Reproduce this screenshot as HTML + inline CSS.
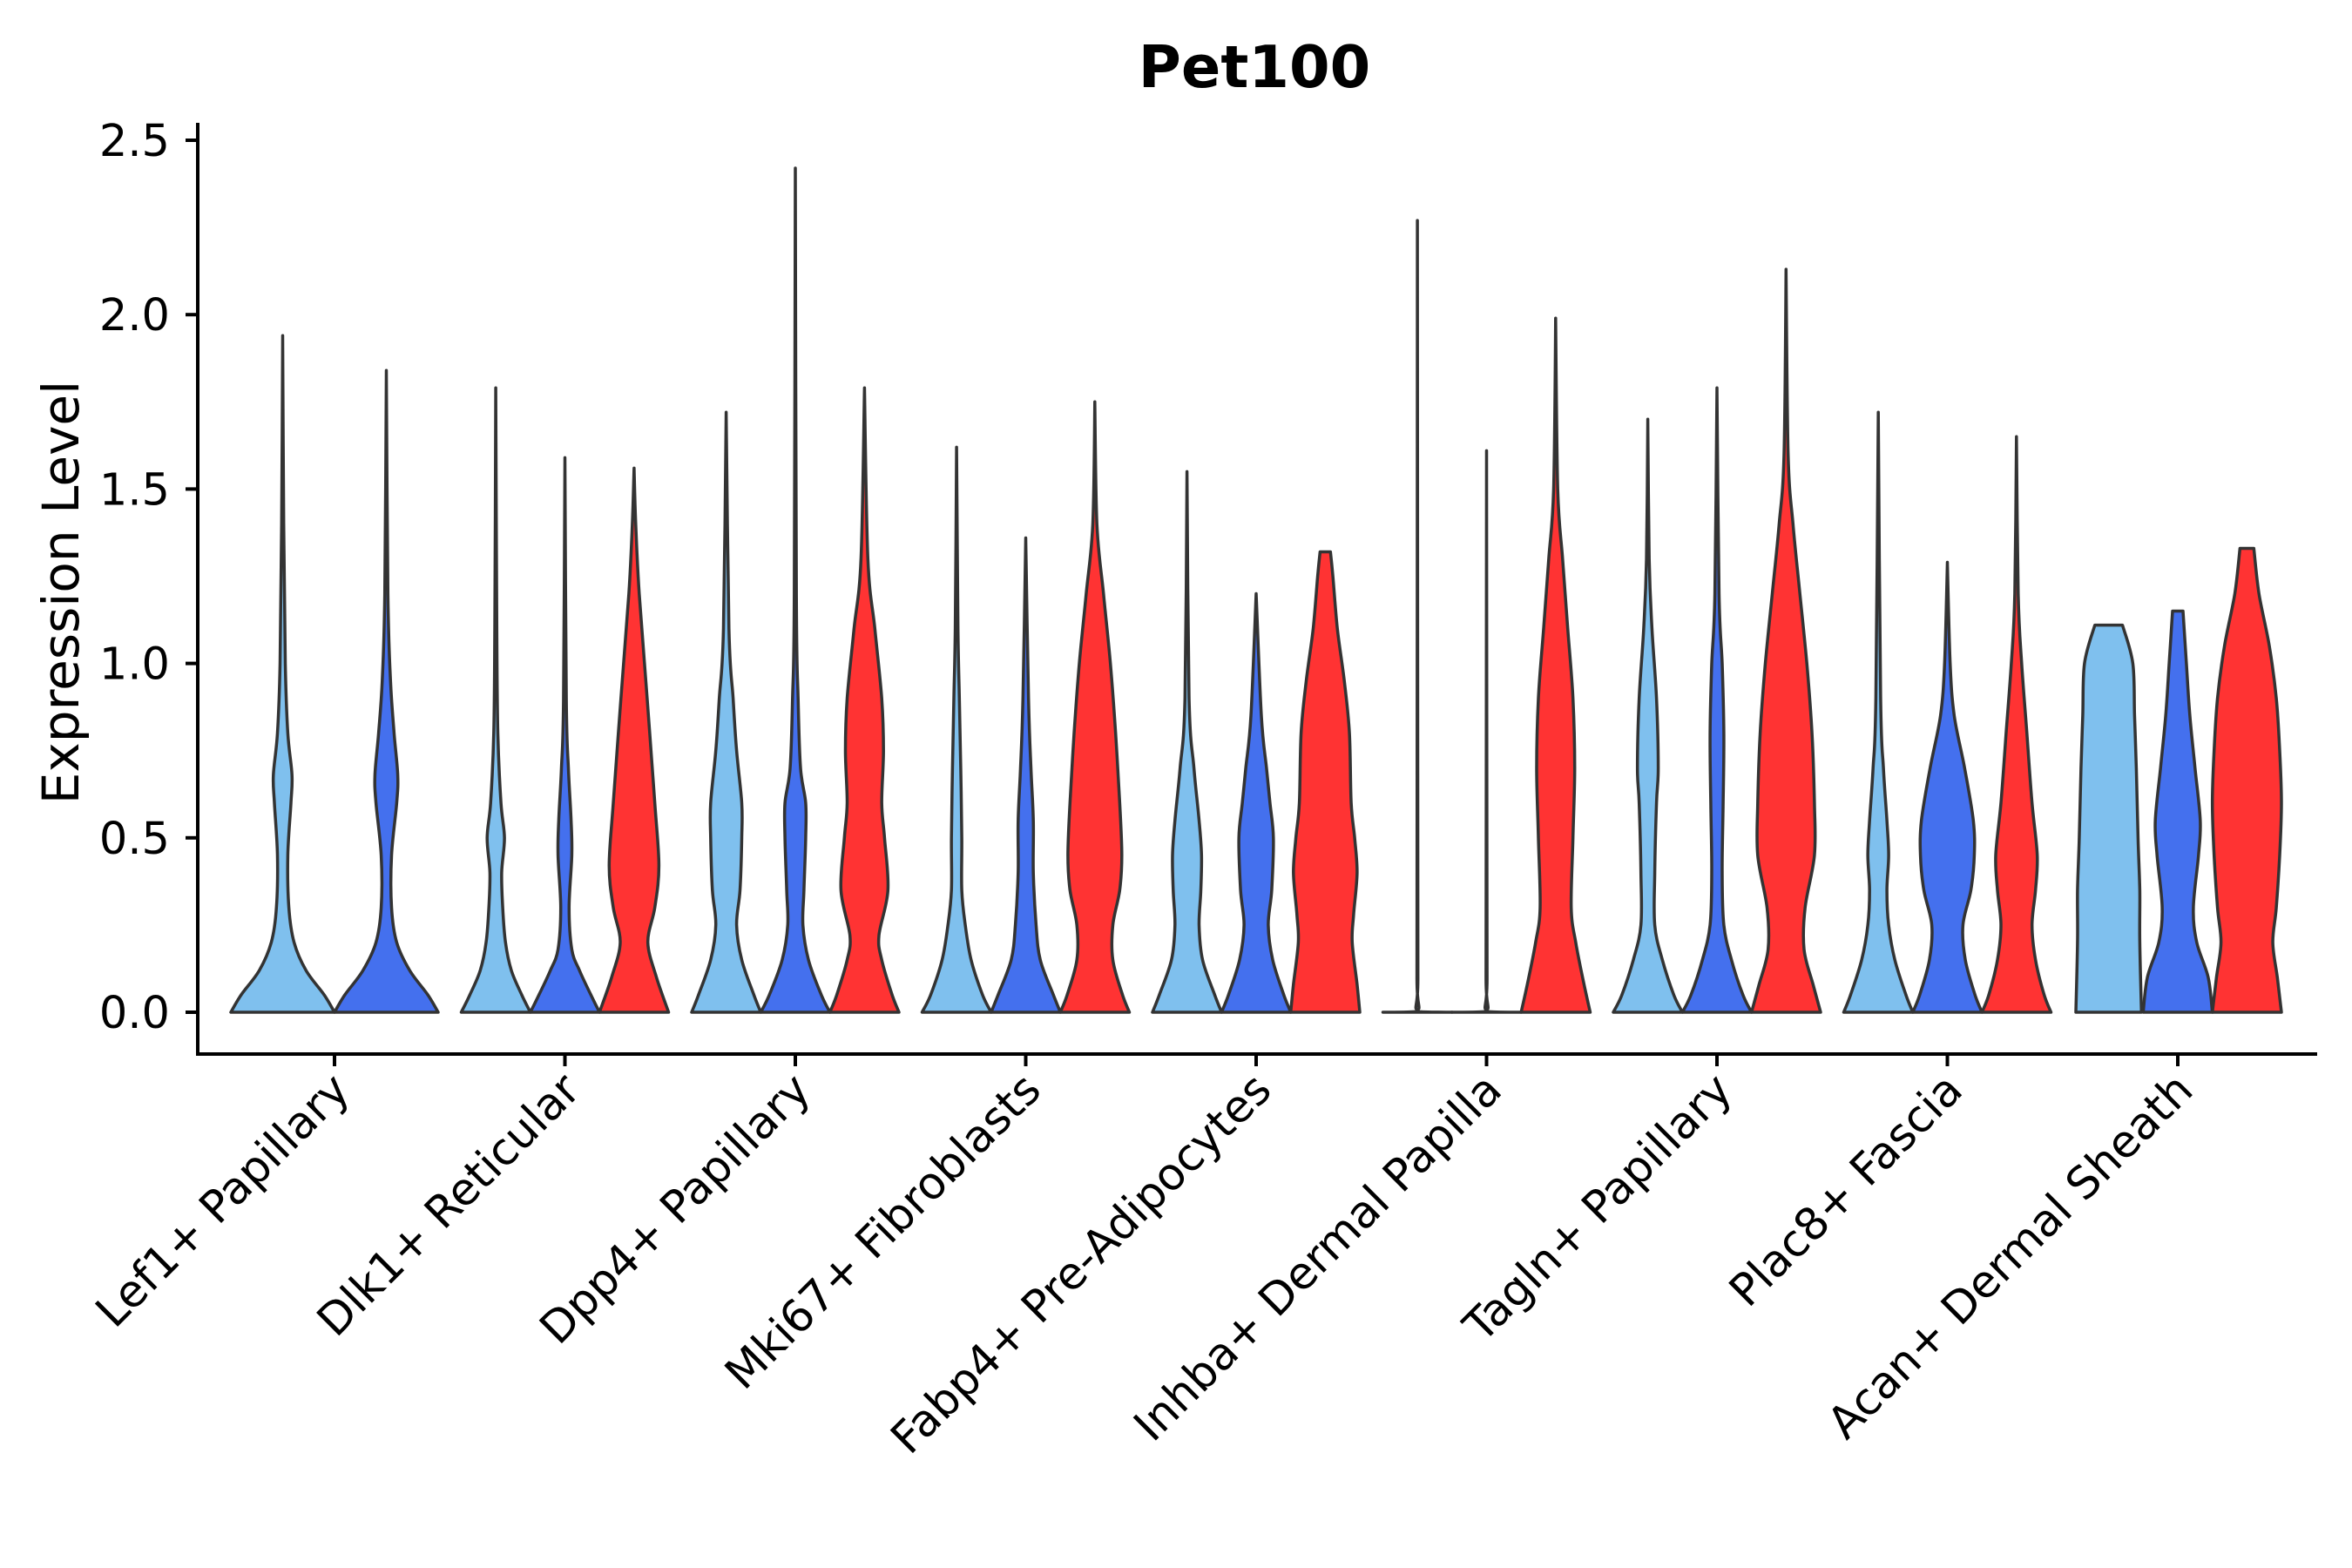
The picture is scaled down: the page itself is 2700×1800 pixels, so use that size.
<!DOCTYPE html>
<html><head><meta charset="utf-8"><style>
html,body{margin:0;padding:0;background:#fff;}
svg{display:block;font-family:"DejaVu Sans","Liberation Sans",sans-serif;}
</style></head><body>
<svg id="chart" width="2700" height="1800" viewBox="0 0 2700 1800" xmlns="http://www.w3.org/2000/svg">
<rect width="2700" height="1800" fill="#fff"/>
<text x="1440" y="100" text-anchor="middle" font-size="67" font-weight="bold">Pet100</text>
<text transform="translate(90,680) rotate(-90)" text-anchor="middle" font-size="58">Expression Level</text>
<g id="violins"></g>
<g id="axes"></g>
</svg>
<script>
const categories = ["Lef1+ Papillary","Dlk1+ Reticular","Dpp4+ Papillary","Mki67+ Fibroblasts","Fabp4+ Pre-Adipocytes","Inhba+ Dermal Papilla","Tagln+ Papillary","Plac8+ Fascia","Acan+ Dermal Sheath"];
const yTicks = [0, 0.5, 1.0, 1.5, 2.0, 2.5];
const yTickLabels = ["0.0","0.5","1.0","1.5","2.0","2.5"];
const seriesColors = ["#7FC0EE","#4470EE","#FF3333"];
// each violin: category index, series index, density knots [value, relative width]
const violinCats = [0,0, 1,1,1, 2,2,2, 3,3,3, 4,4,4, 5,5,5, 6,6,6, 7,7,7, 8,8,8];
const violinSeries = [0,1, 0,1,2, 0,1,2, 0,1,2, 0,1,2, 0,1,2, 0,1,2, 0,1,2, 0,1,2];
const violinKnots = [
 [0,1,.05,.8,.12,.45,.2,.22,.3,.12,.45,.1,.6,.16,.68,.18,.8,.1,1.0,.05,1.4,.02,1.94,0],
 [0,1,.05,.8,.12,.45,.2,.2,.3,.1,.45,.1,.6,.2,.68,.22,.8,.15,.95,.08,1.2,.03,1.84,0],
 [0,1,.05,.75,.12,.45,.2,.28,.3,.2,.4,.17,.5,.25,.6,.15,.8,.06,1.1,.03,1.79,0],
 [0,1,.05,.75,.12,.42,.18,.2,.3,.12,.45,.2,.55,.18,.7,.1,.9,.04,1.59,0],
 [0,1,.1,.65,.2,.4,.3,.6,.42,.72,.6,.6,.9,.38,1.2,.15,1.4,.05,1.56,0],
 [0,1,.05,.8,.15,.45,.25,.3,.35,.4,.5,.45,.6,.45,.75,.3,.9,.2,1.1,.08,1.72,0],
 [0,1,.05,.75,.15,.38,.25,.22,.35,.25,.5,.3,.6,.3,.7,.15,.9,.08,1.2,.03,2.42,0],
 [0,1,.05,.8,.15,.5,.22,.42,.35,.68,.5,.58,.6,.5,.75,.55,.9,.5,1.1,.3,1.3,.1,1.79,0],
 [0,1,.05,.75,.15,.42,.25,.25,.35,.15,.5,.15,.7,.12,.9,.08,1.1,.04,1.62,0],
 [0,1,.05,.8,.15,.42,.25,.3,.4,.22,.55,.22,.7,.15,.9,.08,1.36,0],
 [0,1,.05,.8,.15,.52,.25,.52,.35,.72,.45,.78,.6,.72,.8,.6,1.0,.45,1.2,.25,1.4,.06,1.75,0],
 [0,1,.05,.8,.15,.45,.25,.35,.35,.4,.45,.42,.55,.35,.7,.2,.9,.06,1.55,0],
 [0,1,.05,.8,.15,.48,.25,.35,.35,.45,.5,.5,.6,.4,.7,.3,.85,.15,1.2,0],
 [0,1,.08,.92,.2,.78,.28,.82,.4,.92,.5,.85,.6,.75,.8,.7,.95,.55,1.1,.35,1.25,.22,1.32,.15],
 [0,1,.002,.03,.1,.015,2.27,0],
 [0,1,.002,.03,.1,.015,1.61,0],
 [0,1,.08,.82,.2,.58,.3,.45,.5,.5,.7,.55,.9,.5,1.1,.35,1.3,.2,1.5,.06,1.99,0],
 [0,1,.05,.75,.15,.42,.25,.2,.4,.2,.6,.25,.7,.3,.9,.25,1.1,.12,1.3,.04,1.7,0],
 [0,1,.05,.75,.15,.42,.25,.2,.4,.15,.6,.18,.8,.2,1.0,.15,1.2,.06,1.79,0],
 [0,1,.08,.78,.18,.52,.3,.55,.45,.82,.6,.82,.8,.75,1.0,.6,1.2,.4,1.4,.2,1.6,.06,2.13,0],
 [0,1,.05,.8,.15,.48,.25,.3,.35,.25,.45,.3,.55,.25,.7,.15,.9,.07,1.72,0],
 [0,1,.05,.8,.15,.52,.25,.45,.35,.68,.45,.78,.55,.75,.7,.5,.85,.2,1.0,.08,1.29,0],
 [0,1,.05,.8,.15,.55,.25,.45,.35,.55,.45,.6,.6,.45,.8,.3,1.0,.15,1.2,.05,1.65,0],
 [0,.95,.2,.9,.35,.9,.5,.85,.7,.8,.85,.75,1.0,.7,1.11,.4],
 [0,1,.1,.88,.2,.55,.3,.45,.45,.6,.55,.65,.7,.5,.85,.35,1.0,.25,1.15,.15],
 [0,1,.1,.88,.2,.75,.3,.85,.45,.95,.6,1.0,.75,.95,.9,.85,1.05,.65,1.2,.35,1.33,.2]
];

const NS = "http://www.w3.org/2000/svg";
const X0 = 227, XEND = 2660, YTOP = 141, XAXIS_Y = 1210;
const catStart = 384, catStep = 264.5;
function xScale(i){ return catStart + i*catStep; }
function yScale(v){ return 1162 - v*400.4; }
function mk(tag, attrs, parent){ const e=document.createElementNS(NS,tag); for(const k in attrs) e.setAttribute(k,attrs[k]); parent.appendChild(e); return e; }
function clamp(v,a,b){ const lo=Math.min(a,b), hi=Math.max(a,b); return Math.max(lo,Math.min(hi,v)); }

function smoothPath(pts, first){
  let d = (first?"M":" L")+pts[0][0].toFixed(1)+","+pts[0][1].toFixed(1);
  for(let i=0;i<pts.length-1;i++){
    const p0=pts[Math.max(0,i-1)], p1=pts[i], p2=pts[i+1], p3=pts[Math.min(pts.length-1,i+2)];
    const c1=[p1[0]+(p2[0]-p0[0])/6, clamp(p1[1]+(p2[1]-p0[1])/6,p1[1],p2[1])];
    const c2=[p2[0]-(p3[0]-p1[0])/6, clamp(p2[1]-(p3[1]-p1[1])/6,p1[1],p2[1])];
    d += " C"+c1[0].toFixed(1)+","+c1[1].toFixed(1)+" "+c2[0].toFixed(1)+","+c2[1].toFixed(1)+" "+p2[0].toFixed(1)+","+p2[1].toFixed(1);
  }
  return d;
}

const vg = document.getElementById("violins");
const counts = {};
violinCats.forEach(c=>counts[c]=(counts[c]||0)+1);
violinKnots.forEach((k,idx)=>{
  const c=violinCats[idx], s=violinSeries[idx], n=counts[c];
  const slot = 0.9/n*catStep;
  const rank = violinCats.slice(0,idx).filter(v=>v===c).length;
  const cx = xScale(c) - 0.45*catStep + slot*(rank+0.5);
  const half = slot/2;
  const right=[], left=[];
  for(let j=0;j<k.length;j+=2){
    right.push([cx + k[j+1]*half, yScale(k[j])]);
    left.push([cx - k[j+1]*half, yScale(k[j])]);
  }
  const d = smoothPath(right,true) + smoothPath(left.slice().reverse(),false) + " Z";
  const p = mk("path",{d:d, fill:seriesColors[s], stroke:"#333333","stroke-width":3.5,"stroke-linejoin":"round"}, vg);
  
  
});

const ag = document.getElementById("axes");
const yAxis = mk("line",{x1:X0,y1:YTOP,x2:X0,y2:XAXIS_Y+2,stroke:"#000","stroke-width":4},ag);


const xAxis = mk("line",{x1:X0-2,y1:XAXIS_Y,x2:XEND,y2:XAXIS_Y,stroke:"#000","stroke-width":4},ag);


yTicks.forEach((v,i)=>{
  const y=yScale(v);
  const t=mk("line",{x1:X0-14,y1:y,x2:X0,y2:y,stroke:"#000","stroke-width":4},ag);
  
  
  const tx=mk("text",{x:X0-32,y:y+18,"text-anchor":"end","font-size":51,fill:"#000"},ag);
  tx.textContent=yTickLabels[i];
  
  
});
categories.forEach((c,i)=>{
  const x=xScale(i);
  const t=mk("line",{x1:x,y1:XAXIS_Y,x2:x,y2:XAXIS_Y+14,stroke:"#000","stroke-width":4},ag);
  
  
  const tx=mk("text",{transform:"translate("+(x+20)+","+(XAXIS_Y+44)+") rotate(-45)","text-anchor":"end","font-size":51,fill:"#000"},ag);
  tx.textContent=c;
  
  
});
</script>
</body></html>
